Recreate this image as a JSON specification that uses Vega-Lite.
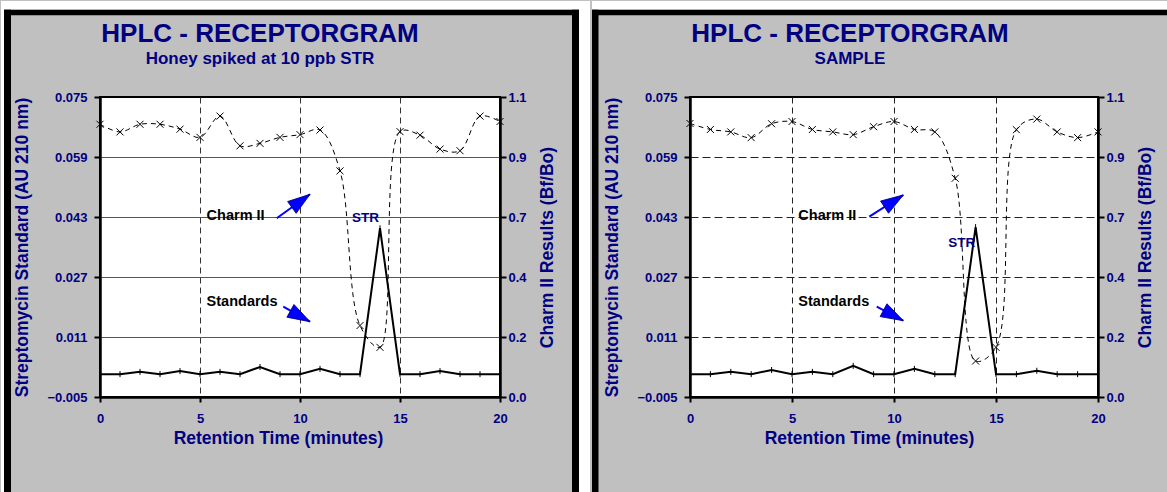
{
  "$schema": "https://vega.github.io/schema/vega-lite/v6.json",
  "background": "#c0c0c0",
  "padding": 0,
  "spacing": 0,
  "config": {
    "font": "Liberation Sans",
    "view": {"stroke": "black", "strokeWidth": 2, "fill": "white"},
    "axis": {
      "labelFont": "Liberation Sans", "labelFontWeight": "bold", "labelColor": "#000080", "labelFontSize": 13,
      "titleFont": "Liberation Sans", "titleFontWeight": "bold", "titleColor": "#000080", "titleFontSize": 17.5,
      "domainColor": "black", "domainWidth": 2.5, "tickColor": "black", "tickWidth": 2, "tickSize": 6,
      "labelOverlap": false
    },
    "title": {
      "font": "Liberation Sans", "fontWeight": "bold", "color": "#000080", "fontSize": 26,
      "subtitleFont": "Liberation Sans", "subtitleFontWeight": "bold", "subtitleColor": "#000080", "subtitleFontSize": 17,
      "subtitlePadding": 4, "frame": "group", "anchor": "middle"
    }
  },
  "hconcat": [
    {
      "width": 400, "height": 300,
      "title": {"text": "HPLC - RECEPTORGRAM", "subtitle": "Honey spiked at 10 ppb STR", "dx": -40, "offset": -66, "zindex": 1},
      "data": {"values": [
        {"t": 0, "std": 0.0011, "charm": 1.000},
        {"t": 1, "std": 0.0011, "charm": 0.972},
        {"t": 2, "std": 0.0017, "charm": 1.000},
        {"t": 3, "std": 0.0011, "charm": 1.000},
        {"t": 4, "std": 0.0019, "charm": 0.982},
        {"t": 5, "std": 0.0011, "charm": 0.952},
        {"t": 6, "std": 0.0017, "charm": 1.030},
        {"t": 7, "std": 0.0011, "charm": 0.921},
        {"t": 8, "std": 0.0030, "charm": 0.930},
        {"t": 9, "std": 0.0011, "charm": 0.952},
        {"t": 10, "std": 0.0011, "charm": 0.962},
        {"t": 11, "std": 0.0025, "charm": 0.979},
        {"t": 12, "std": 0.0011, "charm": 0.829},
        {"t": 13, "std": 0.0011, "charm": 0.262},
        {"t": 14, "std": 0.0400, "charm": 0.182},
        {"t": 15, "std": 0.0011, "charm": 0.973},
        {"t": 16, "std": 0.0011, "charm": 0.960},
        {"t": 17, "std": 0.0019, "charm": 0.909},
        {"t": 18, "std": 0.0011, "charm": 0.903},
        {"t": 19, "std": 0.0011, "charm": 1.030},
        {"t": 20, "std": 0.0011, "charm": 1.010}
      ]},
      "layer": [
        {"layer": [
          {"mark": {"type": "line", "color": "black", "strokeWidth": 2},
           "encoding": {
             "x": {"field": "t", "type": "quantitative", "scale": {"domain": [0, 20], "nice": false, "zero": false},
                   "axis": {"values": [0, 5, 10, 15, 20], "title": "Retention Time (minutes)", "grid": true, "gridDash": [6, 4], "gridColor": "#333",
                            "gridOpacity": {"condition": {"test": "datum.value == 0 || datum.value == 20", "value": 0}, "value": 1},
                            "labelFlush": false, "titleX": 178, "titlePadding": 4, "labelPadding": 10, "tickSize": 5}},
             "y": {"field": "std", "type": "quantitative", "scale": {"domain": [-0.005, 0.075], "nice": false, "zero": false},
                   "axis": {"orient": "left", "values": [-0.005, 0.011, 0.027, 0.043, 0.059, 0.075], "format": ".3f",
                            "title": "Streptomycin Standard (AU 210 nm)", "grid": true, "gridColor": "#555", "gridWidth": 1.2,
                            "gridOpacity": {"condition": {"test": "datum.value < 0 || datum.value > 0.07", "value": 0}, "value": 1},
                            "titlePadding": 15, "labelPadding": 7}}}},
          {"data": {"values": [
             {"part": "white top", "x": -4.95, "x2": 24.4995, "y": 0.10058, "y2": 0.09828},
             {"part": "white left", "x": -4.95, "x2": -4.8, "y": 0.10058, "y2": -0.0303},
             {"part": "white gap", "x": 23.95, "x2": 24.4995, "y": 0.10058, "y2": -0.0303}]},
           "mark": {"type": "rect", "color": "white", "clip": false},
           "encoding": {
             "x": {"field": "x", "type": "quantitative", "scale": {"domain": [0, 20], "nice": false, "zero": false}},
             "x2": {"field": "x2"},
             "y": {"field": "y", "type": "quantitative", "scale": {"domain": [-0.005, 0.075], "nice": false, "zero": false}},
             "y2": {"field": "y2"}}},
          {"data": {"values": [
             {"part": "frame left", "x": -4.8, "x2": -4.45, "y": 0.09828, "y2": -0.0303},
             {"part": "frame top", "x": -4.8, "x2": 23.95, "y": 0.09828, "y2": 0.09679},
             {"part": "frame right", "x": 23.6, "x2": 23.95, "y": 0.09828, "y2": -0.0303}]},
           "mark": {"type": "rect", "color": "black", "clip": false},
           "encoding": {
             "x": {"field": "x", "type": "quantitative", "scale": {"domain": [0, 20], "nice": false, "zero": false}},
             "x2": {"field": "x2"},
             "y": {"field": "y", "type": "quantitative", "scale": {"domain": [-0.005, 0.075], "nice": false, "zero": false}},
             "y2": {"field": "y2"}}},
          {"mark": {"type": "point", "shape": "M0,-1L0,1", "size": 36, "stroke": "black", "strokeWidth": 1, "filled": false, "opacity": 1},
           "encoding": {
             "x": {"field": "t", "type": "quantitative", "scale": {"domain": [0, 20], "nice": false, "zero": false}},
             "y": {"field": "std", "type": "quantitative", "scale": {"domain": [-0.005, 0.075], "nice": false, "zero": false}}}},
          {"data": {"values": [
             {"label": "Charm II", "x": 5.33, "y": 0.0422},
             {"label": "Standards", "x": 5.33, "y": 0.0193}]},
           "mark": {"type": "text", "align": "left", "baseline": "alphabetic", "font": "Liberation Sans", "fontWeight": "bold", "fontSize": 14.5, "color": "black"},
           "encoding": {
             "x": {"field": "x", "type": "quantitative", "scale": {"domain": [0, 20], "nice": false, "zero": false}},
             "y": {"field": "y", "type": "quantitative", "scale": {"domain": [-0.005, 0.075], "nice": false, "zero": false}},
             "text": {"field": "label"}}},
          {"data": {"values": [{"label": "STR", "x": 13.28, "y": 0.0418}]},
           "mark": {"type": "text", "align": "center", "baseline": "alphabetic", "font": "Liberation Sans", "fontWeight": "bold", "fontSize": 13.5, "color": "#000080"},
           "encoding": {
             "x": {"field": "x", "type": "quantitative", "scale": {"domain": [0, 20], "nice": false, "zero": false}},
             "y": {"field": "y", "type": "quantitative", "scale": {"domain": [-0.005, 0.075], "nice": false, "zero": false}},
             "text": {"field": "label"}}},
          {"data": {"values": [
             {"arrow": "charm", "x": 8.835, "y": 0.04265, "x2": 10.5, "y2": 0.04905},
             {"arrow": "std", "x": 9.165, "y": 0.01908, "x2": 10.5, "y2": 0.01508}]},
           "layer": [
             {"mark": {"type": "rule", "color": "#0000ff", "strokeWidth": 2},
              "encoding": {
                "x": {"field": "x", "type": "quantitative", "scale": {"domain": [0, 20], "nice": false, "zero": false}},
                "x2": {"field": "x2"},
                "y": {"field": "y", "type": "quantitative", "scale": {"domain": [-0.005, 0.075], "nice": false, "zero": false}},
                "y2": {"field": "y2"}}},
             {"transform": [{"filter": "datum.arrow == 'charm'"}],
              "mark": {"type": "point", "shape": "M0,0L0.65,2L-0.65,2Z", "size": 500, "angle": 54, "filled": true, "fill": "#0000ff", "stroke": "#000080", "strokeWidth": 0.8, "opacity": 1},
              "encoding": {
                "x": {"field": "x2", "type": "quantitative", "scale": {"domain": [0, 20], "nice": false, "zero": false}},
                "y": {"field": "y2", "type": "quantitative", "scale": {"domain": [-0.005, 0.075], "nice": false, "zero": false}}}},
             {"transform": [{"filter": "datum.arrow == 'std'"}],
              "mark": {"type": "point", "shape": "M0,0L0.65,2L-0.65,2Z", "size": 500, "angle": 119, "filled": true, "fill": "#0000ff", "stroke": "#000080", "strokeWidth": 0.8, "opacity": 1},
              "encoding": {
                "x": {"field": "x2", "type": "quantitative", "scale": {"domain": [0, 20], "nice": false, "zero": false}},
                "y": {"field": "y2", "type": "quantitative", "scale": {"domain": [-0.005, 0.075], "nice": false, "zero": false}}}}
           ]}
        ]},
        {"layer": [
          {"mark": {"type": "line", "color": "black", "strokeWidth": 1, "strokeDash": [5, 4], "interpolate": "catmull-rom"},
           "encoding": {
             "x": {"field": "t", "type": "quantitative", "scale": {"domain": [0, 20], "nice": false, "zero": false}},
             "y": {"field": "charm", "type": "quantitative", "scale": {"domain": [0, 1.1], "nice": false, "zero": false},
                   "axis": {"orient": "right", "values": [0, 0.22, 0.44, 0.66, 0.88, 1.1], "format": ".1f",
                            "title": "Charm II Results (Bf/Bo)", "titleAngle": -90, "titleBaseline": "top", "titlePadding": 12,
                            "grid": false, "labelPadding": 2}}}},
          {"mark": {"type": "point", "shape": "M-1,-1L1,1M-1,1L1,-1", "size": 49, "stroke": "black", "strokeWidth": 1, "filled": false, "opacity": 1},
           "encoding": {
             "x": {"field": "t", "type": "quantitative", "scale": {"domain": [0, 20], "nice": false, "zero": false}},
             "y": {"field": "charm", "type": "quantitative", "scale": {"domain": [0, 1.1], "nice": false, "zero": false}}}}
        ]}
      ],
      "resolve": {"scale": {"y": "independent"}}
    },
    {
      "width": 408, "height": 300,
      "title": {"text": "HPLC - RECEPTORGRAM", "subtitle": "SAMPLE", "dx": -44, "offset": -66, "zindex": 1},
      "data": {"values": [
        {"t": 0, "std": 0.0011, "charm": 1.003},
        {"t": 1, "std": 0.0011, "charm": 0.981},
        {"t": 2, "std": 0.0017, "charm": 0.972},
        {"t": 3, "std": 0.0011, "charm": 0.951},
        {"t": 4, "std": 0.0022, "charm": 1.002},
        {"t": 5, "std": 0.0011, "charm": 1.010},
        {"t": 6, "std": 0.0017, "charm": 0.981},
        {"t": 7, "std": 0.0011, "charm": 0.972},
        {"t": 8, "std": 0.0033, "charm": 0.962},
        {"t": 9, "std": 0.0011, "charm": 0.991},
        {"t": 10, "std": 0.0011, "charm": 1.010},
        {"t": 11, "std": 0.0025, "charm": 0.981},
        {"t": 12, "std": 0.0011, "charm": 0.972},
        {"t": 13, "std": 0.0011, "charm": 0.802},
        {"t": 14, "std": 0.0403, "charm": 0.132},
        {"t": 15, "std": 0.0011, "charm": 0.182},
        {"t": 16, "std": 0.0011, "charm": 0.980},
        {"t": 17, "std": 0.0020, "charm": 1.019},
        {"t": 18, "std": 0.0011, "charm": 0.972},
        {"t": 19, "std": 0.0011, "charm": 0.951},
        {"t": 20, "std": 0.0011, "charm": 0.972}
      ]},
      "layer": [
        {"layer": [
          {"mark": {"type": "line", "color": "black", "strokeWidth": 2},
           "encoding": {
             "x": {"field": "t", "type": "quantitative", "scale": {"domain": [0, 20], "nice": false, "zero": false},
                   "axis": {"values": [0, 5, 10, 15, 20], "title": "Retention Time (minutes)", "grid": true, "gridDash": [6, 4], "gridColor": "#222",
                            "gridOpacity": {"condition": {"test": "datum.value == 0 || datum.value == 20", "value": 0}, "value": 1},
                            "labelFlush": false, "titleX": 179, "titlePadding": 4, "labelPadding": 10, "tickSize": 5}},
             "y": {"field": "std", "type": "quantitative", "scale": {"domain": [-0.005, 0.075], "nice": false, "zero": false},
                   "axis": {"orient": "left", "values": [-0.005, 0.011, 0.027, 0.043, 0.059, 0.075], "format": ".3f",
                            "title": "Streptomycin Standard (AU 210 nm)", "grid": true, "gridColor": "#222", "gridDash": [8, 4], "gridWidth": 1.2,
                            "gridOpacity": {"condition": {"test": "datum.value < 0 || datum.value > 0.07", "value": 0}, "value": 1},
                            "titlePadding": 15, "labelPadding": 7}}}},
          {"data": {"values": [
             {"part": "white top", "x": -4.8035, "x2": 23.3815, "y": 0.10058, "y2": 0.09828}]},
           "mark": {"type": "rect", "color": "white", "clip": false},
           "encoding": {
             "x": {"field": "x", "type": "quantitative", "scale": {"domain": [0, 20], "nice": false, "zero": false}},
             "x2": {"field": "x2"},
             "y": {"field": "y", "type": "quantitative", "scale": {"domain": [-0.005, 0.075], "nice": false, "zero": false}},
             "y2": {"field": "y2"}}},
          {"data": {"values": [
             {"part": "frame left", "x": -4.8035, "x2": -4.485, "y": 0.09828, "y2": -0.0303},
             {"part": "frame top", "x": -4.8035, "x2": 23.3815, "y": 0.09828, "y2": 0.09679}]},
           "mark": {"type": "rect", "color": "black", "clip": false},
           "encoding": {
             "x": {"field": "x", "type": "quantitative", "scale": {"domain": [0, 20], "nice": false, "zero": false}},
             "x2": {"field": "x2"},
             "y": {"field": "y", "type": "quantitative", "scale": {"domain": [-0.005, 0.075], "nice": false, "zero": false}},
             "y2": {"field": "y2"}}},
          {"mark": {"type": "point", "shape": "M0,-1L0,1", "size": 36, "stroke": "black", "strokeWidth": 1, "filled": false, "opacity": 1},
           "encoding": {
             "x": {"field": "t", "type": "quantitative", "scale": {"domain": [0, 20], "nice": false, "zero": false}},
             "y": {"field": "std", "type": "quantitative", "scale": {"domain": [-0.005, 0.075], "nice": false, "zero": false}}}},
          {"data": {"values": [
             {"label": "Charm II", "x": 5.31, "y": 0.0422},
             {"label": "Standards", "x": 5.31, "y": 0.0193}]},
           "mark": {"type": "text", "align": "left", "baseline": "alphabetic", "font": "Liberation Sans", "fontWeight": "bold", "fontSize": 14.5, "color": "black"},
           "encoding": {
             "x": {"field": "x", "type": "quantitative", "scale": {"domain": [0, 20], "nice": false, "zero": false}},
             "y": {"field": "y", "type": "quantitative", "scale": {"domain": [-0.005, 0.075], "nice": false, "zero": false}},
             "text": {"field": "label"}}},
          {"data": {"values": [{"label": "STR", "x": 13.32, "y": 0.0351}]},
           "mark": {"type": "text", "align": "center", "baseline": "alphabetic", "font": "Liberation Sans", "fontWeight": "bold", "fontSize": 13.5, "color": "#000080"},
           "encoding": {
             "x": {"field": "x", "type": "quantitative", "scale": {"domain": [0, 20], "nice": false, "zero": false}},
             "y": {"field": "y", "type": "quantitative", "scale": {"domain": [-0.005, 0.075], "nice": false, "zero": false}},
             "text": {"field": "label"}}},
          {"data": {"values": [
             {"arrow": "charm", "x": 8.789, "y": 0.04308, "x2": 10.456, "y2": 0.04887},
             {"arrow": "std", "x": 9.152, "y": 0.01908, "x2": 10.456, "y2": 0.01535}]},
           "layer": [
             {"mark": {"type": "rule", "color": "#0000ff", "strokeWidth": 2},
              "encoding": {
                "x": {"field": "x", "type": "quantitative", "scale": {"domain": [0, 20], "nice": false, "zero": false}},
                "x2": {"field": "x2"},
                "y": {"field": "y", "type": "quantitative", "scale": {"domain": [-0.005, 0.075], "nice": false, "zero": false}},
                "y2": {"field": "y2"}}},
             {"transform": [{"filter": "datum.arrow == 'charm'"}],
              "mark": {"type": "point", "shape": "M0,0L0.65,2L-0.65,2Z", "size": 500, "angle": 57, "filled": true, "fill": "#0000ff", "stroke": "#000080", "strokeWidth": 0.8, "opacity": 1},
              "encoding": {
                "x": {"field": "x2", "type": "quantitative", "scale": {"domain": [0, 20], "nice": false, "zero": false}},
                "y": {"field": "y2", "type": "quantitative", "scale": {"domain": [-0.005, 0.075], "nice": false, "zero": false}}}},
             {"transform": [{"filter": "datum.arrow == 'std'"}],
              "mark": {"type": "point", "shape": "M0,0L0.65,2L-0.65,2Z", "size": 500, "angle": 118, "filled": true, "fill": "#0000ff", "stroke": "#000080", "strokeWidth": 0.8, "opacity": 1},
              "encoding": {
                "x": {"field": "x2", "type": "quantitative", "scale": {"domain": [0, 20], "nice": false, "zero": false}},
                "y": {"field": "y2", "type": "quantitative", "scale": {"domain": [-0.005, 0.075], "nice": false, "zero": false}}}}
           ]}
        ]},
        {"layer": [
          {"mark": {"type": "line", "color": "black", "strokeWidth": 1, "strokeDash": [5, 4], "interpolate": "catmull-rom"},
           "encoding": {
             "x": {"field": "t", "type": "quantitative", "scale": {"domain": [0, 20], "nice": false, "zero": false}},
             "y": {"field": "charm", "type": "quantitative", "scale": {"domain": [0, 1.1], "nice": false, "zero": false},
                   "axis": {"orient": "right", "values": [0, 0.22, 0.44, 0.66, 0.88, 1.1], "format": ".1f",
                            "title": "Charm II Results (Bf/Bo)", "titleAngle": -90, "titleBaseline": "top", "titlePadding": 12,
                            "grid": false, "labelPadding": 2}}}},
          {"mark": {"type": "point", "shape": "M-1,-1L1,1M-1,1L1,-1", "size": 49, "stroke": "black", "strokeWidth": 1, "filled": false, "opacity": 1},
           "encoding": {
             "x": {"field": "t", "type": "quantitative", "scale": {"domain": [0, 20], "nice": false, "zero": false}},
             "y": {"field": "charm", "type": "quantitative", "scale": {"domain": [0, 1.1], "nice": false, "zero": false}}}}
        ]}
      ],
      "resolve": {"scale": {"y": "independent"}}
    }
  ]
}
